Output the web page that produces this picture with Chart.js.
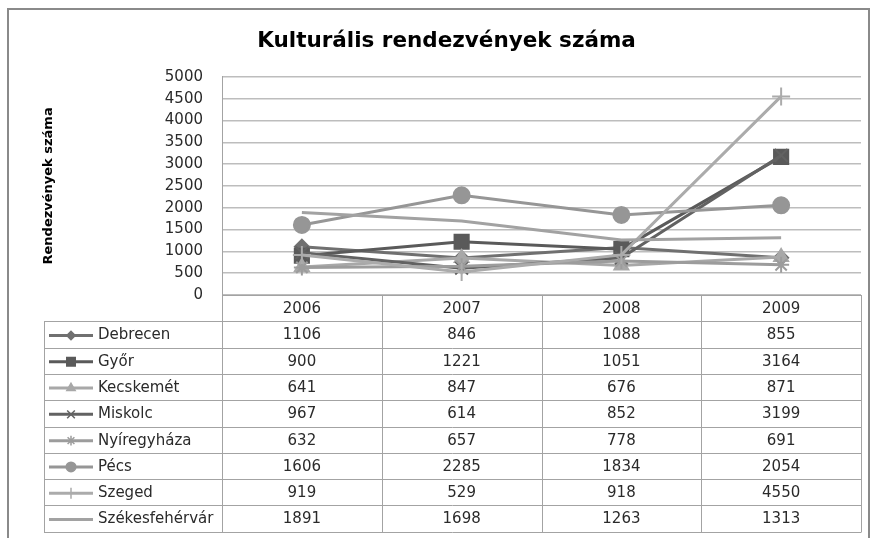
<!DOCTYPE html>
<html>
<head>
<meta charset="utf-8">
<script src="https://cdn.jsdelivr.net/npm/chart.js@4.4.1/dist/chart.umd.min.js"></script>
<style>
html,body{margin:0;padding:0;background:#fff;}
canvas{display:block;}
</style>
</head>
<body>
<canvas id="c" width="873" height="538"></canvas>
<script>
const years=['2006','2007','2008','2009'];
const cities=['Debrecen','Győr','Kecskemét','Miskolc','Nyíregyháza','Pécs','Szeged','Székesfehérvár'];
const debrecen=[1106,846,1088,855];
const gyor=[900,1221,1051,3164];
const kecskemet=[641,847,676,871];
const miskolc=[967,614,852,3199];
const nyiregyhaza=[632,657,778,691];
const pecs=[1606,2285,1834,2054];
const szeged=[919,529,918,4550];
const szekesfehervar=[1891,1698,1263,1313];
const values=[debrecen,gyor,kecskemet,miskolc,nyiregyhaza,pecs,szeged,szekesfehervar];
const yTicks={min:0,max:5000,step:500};

// szürke árnyalatok, mint az eredeti Excel ábrán
const styles=[
{c:'#707070',p:'rectRot',r:7},
{c:'#5a5a5a',p:'rect',r:10},
{c:'#a8a8a8',p:'triangle',r:8},
{c:'#626262',p:'crossRot',r:9},
{c:'#9c9c9c',p:'star',r:8},
{c:'#969696',p:'circle',r:8},
{c:'#ababab',p:'cross',r:9},
{c:'#a2a2a2',p:false,r:0}
];
const FONT='DejaVu Sans';
Chart.defaults.font.family=FONT;

const framePlugin={
id:'frame',
beforeDraw(chart){
const ctx=chart.ctx;
ctx.save();
ctx.fillStyle='#fff';ctx.fillRect(0,0,chart.width,chart.height);
ctx.strokeStyle='#8a8a8a';ctx.lineWidth=2;
ctx.strokeRect(8,9,861,560);
ctx.restore();
}
};

// adattábla a diagram alatt, az x tengely oszlopaihoz igazítva
const tablePlugin={
id:'dataTable',
afterDraw(chart){
const {ctx,chartArea:a,scales:{x}}=chart;
const colW=(a.right-a.left)/years.length;
const rowH=26.3,top=a.bottom,legL=44;
const bottom=top+rowH*(cities.length+1);
const px=v=>Math.round(v)+0.5;
ctx.save();
ctx.strokeStyle='#a3a3a3';ctx.lineWidth=1;
ctx.beginPath();
for(let k=1;k<=cities.length+1;k++){
const y=px(top+k*rowH);
ctx.moveTo(legL,y);ctx.lineTo(a.right,y);
}
ctx.moveTo(px(legL),px(top+rowH));ctx.lineTo(px(legL),px(bottom));
ctx.moveTo(px(a.left),px(top));ctx.lineTo(px(a.left),px(bottom));
years.forEach((yr,i)=>{
const xr=px(x.getPixelForValue(i)+colW/2);
ctx.moveTo(xr,px(top));ctx.lineTo(xr,px(bottom));
});
ctx.stroke();
ctx.font='15px "'+FONT+'"';
ctx.fillStyle='#2a2a2a';
ctx.textBaseline='middle';
ctx.textAlign='center';
years.forEach((yr,i)=>ctx.fillText(yr,x.getPixelForValue(i),top+rowH/2+1));
cities.forEach((name,r)=>{
const yc=top+rowH*(r+1.5)+1;
values[r].forEach((v,i)=>ctx.fillText(String(v),x.getPixelForValue(i),yc));
const s=styles[r];
ctx.strokeStyle=s.c;ctx.fillStyle=s.c;ctx.lineWidth=3;
ctx.beginPath();ctx.moveTo(legL+5,yc);ctx.lineTo(legL+49,yc);ctx.stroke();
if(s.p&&Chart.helpers&&Chart.helpers.drawPoint){
ctx.lineWidth=1.5;
Chart.helpers.drawPoint(ctx,{pointStyle:s.p,radius:Math.max(4,s.r*0.6),rotation:0,borderWidth:1.5},legL+27,yc);
}
ctx.fillStyle='#2a2a2a';ctx.textAlign='left';
ctx.fillText(name,legL+54,yc);
ctx.textAlign='center';
});
ctx.restore();
}
};

new Chart(document.getElementById('c'),{
type:'line',
data:{labels:years,datasets:cities.map((name,i)=>({
label:name,
data:values[i],
borderColor:styles[i].c,
backgroundColor:styles[i].c,
borderWidth:3,
pointStyle:styles[i].p,
pointRadius:styles[i].r,
pointBorderWidth:2,
tension:0,
// Excel-ben a későbbi sorozat kerül felülre
order:cities.length-i
}))},
options:{
responsive:false,
animation:false,
layout:{padding:{top:10,left:30,right:10,bottom:243}},
plugins:{
legend:{display:false},
tooltip:{enabled:false},
title:{display:true,text:'Kulturális rendezvények száma',color:'#000',
font:{family:FONT,size:21.5,weight:'bold'},padding:{top:19,bottom:22}}
},
scales:{
x:{offset:true,grid:{display:false,drawTicks:false},ticks:{display:false},
border:{display:true,color:'#a3a3a3',width:1}},
y:{min:yTicks.min,max:yTicks.max,
afterFit:s=>{s.width=192;},
ticks:{stepSize:yTicks.step,padding:19,color:'#2a2a2a',font:{size:15},callback:v=>v},
grid:{color:'#bdbdbd',lineWidth:1.5,drawTicks:false},
border:{display:true,color:'#a3a3a3',width:1},
title:{display:true,text:'Rendezvények száma',color:'#000',
font:{family:FONT,size:13,weight:'bold'},padding:{top:11,bottom:0}}
}
}
},
plugins:[framePlugin,tablePlugin]
});
</script>
</body>
</html>
